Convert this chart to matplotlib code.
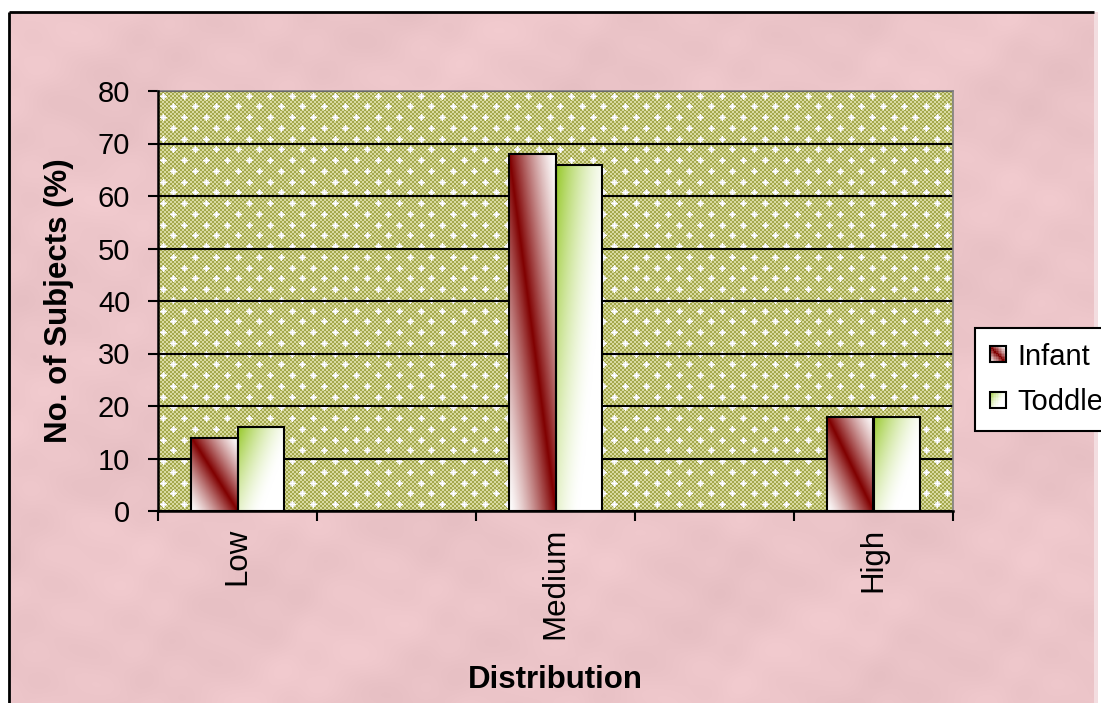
import numpy as np
import matplotlib
matplotlib.use("Agg")
import matplotlib.pyplot as plt
from matplotlib.patches import Rectangle
from matplotlib.legend_handler import HandlerBase

# Data
categories = ["Low", "Medium", "High"]
infant = [14, 68, 18]
toddler = [16, 66, 18]
series_names = ["Infant", "Toddler"]
y_ticks = [0, 10, 20, 30, 40, 50, 60, 70, 80]

plt.rcParams["font.family"] = ["Liberation Sans", "DejaVu Sans"]
FS = 21
FS_LAB = 22.5

W_PX, H_PX = 1101, 703
MAROON = np.array([128, 0, 0]) / 255.0
GREEN = np.array([150, 200, 40]) / 255.0
WHITE = np.ones(3)


# Gradient fills: u runs left->right, v runs top->bottom, both 0..1
def infant_fill(u, v):
    t = np.clip(1 - np.abs(u - v), 0, 1) ** 1.3
    return WHITE * (1 - t[..., None]) + MAROON * t[..., None]


def toddler_fill(u, v):
    t = np.clip(1 - (u + 0.7 * v) / 1.2, 0, 1) ** 1.6
    return WHITE * (1 - t[..., None]) + GREEN * t[..., None]


def gradient(fn, nx=60, ny=200):
    u, v = np.meshgrid(np.linspace(0, 1, nx), np.linspace(0, 1, ny))
    return fn(u, v)


def paint_bars(ax, bars, fn):
    for b in bars:
        x0, y0 = b.get_x(), b.get_y()
        ax.imshow(gradient(fn), extent=(x0, x0 + b.get_width(), y0, y0 + b.get_height()),
                  origin="upper", aspect="auto", interpolation="bilinear", zorder=2)


class GradientHandler(HandlerBase):
    def __init__(self, fn, n=10):
        super().__init__()
        self.fn = fn
        self.n = n

    def create_artists(self, legend, orig_handle, xdescent, ydescent, width, height, fontsize, trans):
        side = min(width, height)
        x0, y0 = -xdescent, -ydescent + (height - side) / 2
        n = self.n
        cell = side / n
        arts = []
        for i in range(n):
            for j in range(n):
                c = self.fn(np.array([(j + 0.5) / n]), np.array([(i + 0.5) / n]))[0]
                arts.append(Rectangle((x0 + j * cell, y0 + side - (i + 1) * cell), cell, cell,
                                      facecolor=c, edgecolor="none", transform=trans))
        arts.append(Rectangle((x0, y0), side, side, facecolor="none", edgecolor="black",
                              lw=1.5, transform=trans))
        return arts


# Plot area texture: olive checker with white sparkles
def plot_texture(h, w):
    i, j = np.mgrid[0:h, 0:w]
    chk = ((i // 2 + j // 2) % 2).astype(bool)
    olive = np.array([164, 168, 76]) / 255.0
    light = np.array([216, 218, 160]) / 255.0
    img = np.where(chk[..., None], light, olive)
    p = 21.5
    k = 0
    cy = 5.0
    while cy < h:
        cx = 5.0 + (k % 2) * p / 2
        while cx < w:
            a, b = int(cy), int(cx)
            img[max(a - 2, 0):a + 3, max(b - 1, 0):b + 2] = 0.92
            img[max(a - 1, 0):a + 2, max(b - 2, 0):b + 3] = 0.92
            img[max(a - 3, 0):a + 4, b] = 1.0
            img[a, max(b - 3, 0):b + 4] = 1.0
            cx += p
        cy += p / 2
        k += 1
    return img


def pink_texture(h, w):
    yy, xx = np.mgrid[0:h, 0:w].astype(float)
    n = (np.sin(xx / 37 + 2 * np.sin(yy / 53)) + np.sin(yy / 29 + xx / 71)
         + 0.6 * np.sin((xx + yy) / 13 + np.sin(xx / 23)) + 0.6 * np.sin((xx - 2 * yy) / 17))
    n = n / np.abs(n).max()
    base = np.array([236, 197, 201]) / 255.0
    return np.clip(base + n[..., None] * 0.025, 0, 1)


fig = plt.figure(figsize=(W_PX / 100, H_PX / 100), dpi=100)
fig.patch.set_facecolor("white")

# Page background
bg = fig.add_axes([0, 0, 1, 1], zorder=-10)
bg.axis("off")
bg.imshow(pink_texture(H_PX - 12, 1094 - 9), extent=(9, 1094, H_PX, 12), aspect="auto",
          interpolation="bilinear")
bg.add_patch(Rectangle((1094, 12), 4, H_PX - 12, facecolor="#f3dde0", edgecolor="none"))
bg.plot([9, 9], [12, H_PX], color="black", lw=2, solid_capstyle="butt")
bg.plot([9, 1094], [12, 12], color="black", lw=2, solid_capstyle="butt")
bg.set_xlim(0, W_PX)
bg.set_ylim(H_PX, 0)

left, right, top, bottom = 158, 953, 91, 511
ax = fig.add_axes([left / W_PX, 1 - bottom / H_PX, (right - left) / W_PX, (bottom - top) / H_PX])
ax.patch.set_facecolor("none")

# category slots 0..4, data sits on the even ones
x = np.arange(len(categories)) * 2
xmin, xmax = -0.5, 2 * len(categories) - 1.5

ax.imshow(plot_texture(bottom - top, right - left), extent=(xmin, xmax, 0, 80), aspect="auto",
          interpolation="nearest", zorder=0)

bw = 0.29
b1 = ax.bar(x - bw / 2, infant, bw, facecolor="none", edgecolor="black", lw=1.5, zorder=3)
b2 = ax.bar(x + bw / 2, toddler, bw, facecolor="none", edgecolor="black", lw=1.5, zorder=3)
paint_bars(ax, b1, infant_fill)
paint_bars(ax, b2, toddler_fill)

ax.set_xlim(xmin, xmax)
ax.set_ylim(0, 80)
ax.set_yticks(y_ticks)
ax.set_yticklabels([str(v) for v in y_ticks], fontsize=FS)
ax.set_axisbelow(True)
ax.yaxis.grid(True, color="black", lw=1.5)

ax.set_xticks(np.arange(xmin, xmax + 0.01, 1.0))
ax.set_xticklabels([])
ax.set_xticks(x, minor=True)
ax.set_xticklabels(categories, minor=True, rotation=90, fontsize=FS_LAB, va="top", ha="center")
ax.tick_params(axis="x", which="minor", length=0, pad=12)
ax.tick_params(axis="x", which="major", direction="out", length=7, width=1.5)
ax.tick_params(axis="y", direction="out", length=7, width=1.5, pad=13)

for s in ("left", "bottom"):
    ax.spines[s].set_color("black")
    ax.spines[s].set_linewidth(1.8)
    ax.spines[s].set_zorder(4)
for s in ("top", "right"):
    ax.spines[s].set_color("#808080")
    ax.spines[s].set_linewidth(1.2)

ax.set_xlabel("Distribution", fontsize=FS_LAB, fontweight="bold")
ax.xaxis.set_label_coords(0.5, -0.367)
ax.set_ylabel("No. of Subjects (%)", fontsize=FS_LAB, fontweight="bold")
ax.yaxis.set_label_coords(-0.106, 0.5)

h1 = Rectangle((0, 0), 1, 1)
h2 = Rectangle((0, 0), 1, 1)
leg = ax.legend([h1, h2], series_names, loc="upper left",
                bbox_to_anchor=(975 / W_PX, 1 - 328 / H_PX), bbox_transform=fig.transFigure,
                borderaxespad=0, fontsize=FS, frameon=True, fancybox=False,
                handlelength=0.55, handleheight=0.55, handletextpad=0.4, borderpad=0.5,
                labelspacing=0.6,
                handler_map={h1: GradientHandler(infant_fill), h2: GradientHandler(toddler_fill)})
leg.get_frame().set_edgecolor("black")
leg.get_frame().set_linewidth(1.5)
leg.get_frame().set_facecolor("white")
leg.get_frame().set_alpha(1)

fig.savefig("out.png", dpi=100)
